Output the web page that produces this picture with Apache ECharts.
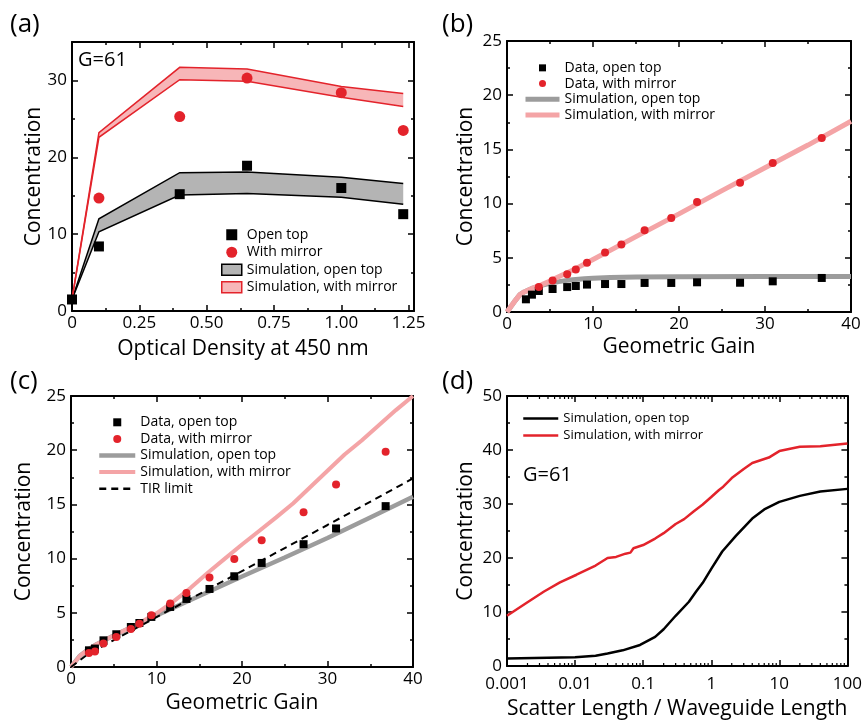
<!DOCTYPE html>
<html>
<head>
<meta charset="utf-8">
<script src="https://cdn.jsdelivr.net/npm/echarts@6.0.0/dist/echarts.min.js"></script>
<style>
html, body { margin: 0; padding: 0; background: #fff; }
#main { width: 865px; height: 722px; }
</style>
</head>
<body>
<div id="main"></div>
<script>
// (a) concentration vs optical density, G=61
const odX = [0, 0.1, 0.4, 0.65, 1.0, 1.23];
const odOpenTop = [1.5, 8.4, 15.2, 18.9, 16.0, 12.6];
const odMirrorX = [0.1, 0.4, 0.65, 1.0, 1.23];
const odMirror = [14.7, 25.3, 30.3, 28.4, 23.5];
const odSimOpenLow = [1.5, 10.3, 15.1, 15.3, 14.8, 13.9];
const odSimOpenHigh = [1.5, 12.0, 18.0, 18.1, 17.4, 16.6];
const odSimMirLow = [1.5, 22.6, 30.1, 29.9, 27.8, 26.6];
const odSimMirHigh = [1.5, 23.2, 31.7, 31.5, 29.2, 28.3];

// (b) concentration vs geometric gain
const gainB = [2.2, 2.9, 3.7, 5.3, 7.0, 8.0, 9.3, 11.4, 13.3, 16.0, 19.1, 22.1, 27.1, 30.9, 36.6];
const openB = [1.17, 1.6, 1.94, 2.12, 2.3, 2.4, 2.53, 2.58, 2.58, 2.68, 2.68, 2.74, 2.7, 2.83, 3.14];
const gainBm = [3.7, 5.3, 7.0, 8.0, 9.3, 11.4, 13.3, 16.0, 19.1, 22.1, 27.1, 30.9, 36.6];
const mirrorB = [2.3, 2.9, 3.48, 3.91, 4.55, 5.48, 6.22, 7.54, 8.67, 10.15, 11.93, 13.75, 16.05];
const simOpenBX = [0, 1, 1.5, 2, 3, 4, 5, 6, 7, 8, 9, 10, 12, 15, 20, 30, 40];
const simOpenBY = [0, 1.1, 1.6, 1.85, 2.2, 2.45, 2.65, 2.8, 2.92, 3.0, 3.07, 3.12, 3.18, 3.22, 3.25, 3.27, 3.28];
const simMirBX = [0, 1, 1.5, 2, 3, 4, 5, 6, 8, 10, 15, 20, 25, 30, 35, 40];
const simMirBY = [0, 1.1, 1.6, 1.85, 2.2, 2.5, 2.85, 3.25, 4.0, 4.85, 6.95, 9.05, 11.2, 13.3, 15.4, 17.6];

// (c) concentration vs geometric gain, second sample
const gainC = [2.1, 2.8, 3.8, 5.3, 7.0, 8.0, 9.4, 11.6, 13.5, 16.2, 19.1, 22.3, 27.2, 31.0, 36.8];
const openC = [1.54, 1.7, 2.46, 3.02, 3.69, 4.06, 4.62, 5.54, 6.28, 7.2, 8.37, 9.6, 11.33, 12.78, 14.84];
const mirrorC = [1.29, 1.42, 2.16, 2.77, 3.51, 4.0, 4.77, 5.85, 6.83, 8.25, 9.97, 11.7, 14.28, 16.84, 19.85];
const simOpenCX = [0, 1, 2, 3, 5, 8, 10, 15, 20, 25, 30, 35, 40];
const simOpenCY = [0, 1.0, 1.6, 2.1, 2.9, 4.0, 4.75, 6.55, 8.35, 10.1, 11.9, 13.8, 15.7];
const simMirCX = [0, 1, 2, 3, 5, 8, 10, 12, 14, 16, 18, 20, 22, 24, 26, 28, 30, 32, 34, 36, 38, 40];
const simMirCY = [0, 1.0, 1.6, 2.1, 2.9, 4.05, 4.95, 6.05, 7.3, 8.7, 10.0, 11.3, 12.55, 13.8, 15.1, 16.6, 18.1, 19.6, 20.9, 22.3, 23.7, 25.0];
const tirX = [0, 2, 10, 20, 30, 40];
const tirY = [0, 1.2, 4.6, 8.85, 13.1, 17.4];

// (d) concentration vs scatter length / waveguide length
const scatOpenX = [0.001, 0.01, 0.02, 0.03, 0.05, 0.09, 0.15, 0.2, 0.3, 0.47, 0.6, 0.75, 1.0, 1.45, 2.3, 4.0, 6, 10, 20, 40, 100];
const scatOpenY = [1.4, 1.6, 1.9, 2.3, 2.9, 3.9, 5.4, 6.8, 9.3, 11.9, 13.8, 15.4, 18.0, 21.2, 24.1, 27.3, 29.0, 30.4, 31.5, 32.3, 32.8];
const scatMirX = [0.001, 0.002, 0.0035, 0.006, 0.0105, 0.02, 0.03, 0.04, 0.055, 0.065, 0.072, 0.1, 0.15, 0.2, 0.3, 0.4, 0.55, 0.75, 1.0, 1.3, 1.5, 2.0, 3.0, 4.0, 7.0, 10, 20, 40, 100];
const scatMirY = [9.3, 11.8, 13.8, 15.5, 16.9, 18.6, 20.0, 20.2, 20.8, 21.0, 21.8, 22.4, 23.6, 24.6, 26.3, 27.2, 28.6, 29.9, 31.3, 32.6, 33.2, 34.8, 36.5, 37.6, 38.6, 39.8, 40.6, 40.7, 41.2];

const FONT = 'Open Sans';
const RED = '#e3232b';
const PINK = '#f4a4a6';
const GREY = '#9c9c9c';
const SQUARE = 'path://M0,0L10,0L10,10L0,10Z';

function zip(xs, ys) {
    return xs.map(function (x, i) { return [x, ys[i]]; });
}

function stripName(name) {
    return name.split('::')[1];
}

const tickStyle = {color: '#000', width: 1.5};

// bottom + top x axes for one grid
function xAxes(grid, cfg) {
    const base = {
        gridIndex: grid, type: cfg.type || 'value', min: cfg.min, max: cfg.max, interval: cfg.interval,
        axisLine: {onZero: false, lineStyle: {color: '#000', width: 2}},
        axisTick: {inside: true, length: 6, lineStyle: tickStyle},
        minorTick: {show: cfg.minor !== false, splitNumber: 2, length: 3, lineStyle: tickStyle},
        splitLine: {show: false}
    };
    const bottom = Object.assign({}, base, {
        position: 'bottom', name: cfg.name, nameLocation: 'middle', nameGap: cfg.nameGap, nameMoveOverlap: false,
        nameTextStyle: {fontSize: 21, color: '#000', fontFamily: FONT},
        axisLabel: {fontSize: 17, color: '#000', fontFamily: FONT, margin: cfg.margin || 4,
            showMaxLabel: cfg.showMax !== false, hideOverlap: false, formatter: cfg.fmt}
    });
    const top = Object.assign({}, base, {position: 'top', axisLabel: {show: false}});
    return [bottom, top];
}

// left + right y axes for one grid
function yAxes(grid, cfg) {
    const base = {
        gridIndex: grid, type: 'value', min: cfg.min, max: cfg.max, interval: cfg.interval,
        axisLine: {onZero: false, lineStyle: {color: '#000', width: 2}},
        axisTick: {inside: true, length: 6, lineStyle: tickStyle},
        minorTick: {show: true, splitNumber: 2, length: 3, lineStyle: tickStyle},
        splitLine: {show: false}
    };
    const left = Object.assign({}, base, {
        position: 'left', name: 'Concentration', nameLocation: 'middle', nameGap: cfg.nameGap, nameMoveOverlap: false,
        nameTextStyle: {fontSize: 21, color: '#000', fontFamily: FONT},
        axisLabel: {fontSize: 17, color: '#000', fontFamily: FONT, margin: 5,
            showMaxLabel: cfg.showMax !== false, hideOverlap: false}
    });
    const right = Object.assign({}, base, {position: 'right', axisLabel: {show: false}});
    return [left, right];
}

function bandRenderer(xs, lows, highs, fill, stroke) {
    return function (params, api) {
        if (params.dataIndex !== 0) return;
        const upper = xs.map(function (x, i) { return api.coord([x, highs[i]]); });
        const lower = xs.map(function (x, i) { return api.coord([x, lows[i]]); });
        return {
            type: 'group',
            children: [
                {type: 'polygon', shape: {points: upper.concat(lower.slice().reverse())}, style: {fill: fill}},
                {type: 'polyline', shape: {points: upper}, style: {stroke: stroke, lineWidth: 1.5, fill: null}},
                {type: 'polyline', shape: {points: lower}, style: {stroke: stroke, lineWidth: 1.5, fill: null}}
            ]
        };
    };
}

// log-axis minor ticks (2..9 per decade) for panel (d)
const logMinor = [];
for (let e = -3; e <= 1; e++) {
    for (let k = 2; k <= 9; k++) {
        logMinor.push([k * Math.pow(10, e), 0]);
    }
}

function lineItem(name, color, width, type) {
    return {name: name, itemStyle: {opacity: 0},
        lineStyle: {color: color, width: width, type: type || 'solid', opacity: 1}};
}
function squareItem(name, color) { return {name: name, icon: SQUARE, itemStyle: {color: color, opacity: 1}}; }
function circleItem(name, color) { return {name: name, icon: 'circle', itemStyle: {color: color, opacity: 1}}; }

function legendBox(left, top, itemWidth, itemHeight, fontSize, lineHeight, data) {
    return {
        left: left, top: top, orient: 'vertical', itemWidth: itemWidth, itemHeight: itemHeight, itemGap: 0,
        padding: 0, selectedMode: false, formatter: stripName,
        textStyle: {fontSize: fontSize, color: '#000', fontFamily: FONT, lineHeight: lineHeight},
        data: data
    };
}

const chart = echarts.init(document.getElementById('main'));

const option = {
    animation: false,
    backgroundColor: '#fff',
    textStyle: {fontFamily: FONT, color: '#000'},
    title: [
        {text: '(a)', left: 10, top: 12, padding: 0, textStyle: {fontSize: 26, fontWeight: 'normal', color: '#000', fontFamily: FONT}},
        {text: '(b)', left: 442, top: 12, padding: 0, textStyle: {fontSize: 26, fontWeight: 'normal', color: '#000', fontFamily: FONT}},
        {text: '(c)', left: 10, top: 369, padding: 0, textStyle: {fontSize: 26, fontWeight: 'normal', color: '#000', fontFamily: FONT}},
        {text: '(d)', left: 442, top: 369, padding: 0, textStyle: {fontSize: 26, fontWeight: 'normal', color: '#000', fontFamily: FONT}},
        {text: 'G=61', left: 78, top: 50, padding: 0, textStyle: {fontSize: 20, fontWeight: 'normal', color: '#000', fontFamily: FONT}},
        {text: 'G=61', left: 523, top: 465, padding: 0, textStyle: {fontSize: 20, fontWeight: 'normal', color: '#000', fontFamily: FONT}}
    ],
    legend: [
        legendBox(221, 226, 20, 11, 14, 17.5, [
            squareItem('a::Open top', '#000'),
            circleItem('a::With mirror', RED),
            {name: 'a::Simulation, open top', icon: 'rect', itemStyle: {color: '#b4b4b4', borderColor: '#000', borderWidth: 1.5, opacity: 1}},
            {name: 'a::Simulation, with mirror', icon: 'rect', itemStyle: {color: '#f7b6b8', borderColor: RED, borderWidth: 1.5, opacity: 1}}
        ]),
        legendBox(523, 60, 34, 7, 14, 15.7, [
            squareItem('b::Data, open top', '#000'),
            circleItem('b::Data, with mirror', RED),
            lineItem('b::Simulation, open top', GREY, 5),
            lineItem('b::Simulation, with mirror', PINK, 5)
        ]),
        legendBox(97, 414, 36, 8, 14, 16.6, [
            squareItem('c::Data, open top', '#000'),
            circleItem('c::Data, with mirror', RED),
            lineItem('c::Simulation, open top', GREY, 4.5),
            lineItem('c::Simulation, with mirror', PINK, 4),
            lineItem('c::TIR limit', '#000', 2.5, [7, 5])
        ]),
        legendBox(522, 410, 35, 7, 13, 17, [
            lineItem('d::Simulation, open top', '#000', 2.5),
            lineItem('d::Simulation, with mirror', RED, 2.5)
        ])
    ],
    grid: [
        {left: 72, top: 42, width: 342, height: 269},
        {left: 507, top: 41, width: 344, height: 271},
        {left: 71, top: 396, width: 342, height: 271},
        {left: 507, top: 396, width: 342, height: 270}
    ],
    xAxis: [].concat(
        xAxes(0, {min: 0, max: 1.27, interval: 0.25, name: 'Optical Density at 450 nm', nameGap: 28, showMax: false,
            fmt: function (v) { return v === 0 ? '0' : v.toFixed(2); }}),
        xAxes(1, {min: 0, max: 40, interval: 10, name: 'Geometric Gain', nameGap: 25}),
        xAxes(2, {min: 0, max: 40, interval: 10, name: 'Geometric Gain', nameGap: 26}),
        xAxes(3, {type: 'log', min: 0.001, max: 100, minor: false, name: 'Scatter Length / Waveguide Length', nameGap: 33, margin: 10,
            fmt: function (v) { return String(Number(v.toPrecision(3))); }})
    ),
    yAxis: [].concat(
        yAxes(0, {min: 0, max: 35, interval: 10, nameGap: 27, showMax: false}),
        yAxes(1, {min: 0, max: 25, interval: 5, nameGap: 30}),
        yAxes(2, {min: 0, max: 25, interval: 5, nameGap: 36}),
        yAxes(3, {min: 0, max: 50, interval: 10, nameGap: 30})
    ),
    series: [
        // (a)
        {name: 'a::Simulation, open top', type: 'custom', xAxisIndex: 0, yAxisIndex: 0, z: 2,
            itemStyle: {color: '#b4b4b4', borderColor: '#000', borderWidth: 1.5},
            data: odX.map(function (x, i) { return [x, odSimOpenLow[i], odSimOpenHigh[i]]; }),
            encode: {x: 0, y: [1, 2]},
            renderItem: bandRenderer(odX, odSimOpenLow, odSimOpenHigh, '#b4b4b4', '#000')},
        {name: 'a::Simulation, with mirror', type: 'custom', xAxisIndex: 0, yAxisIndex: 0, z: 2,
            itemStyle: {color: '#f7b6b8', borderColor: RED, borderWidth: 1.5},
            data: odX.map(function (x, i) { return [x, odSimMirLow[i], odSimMirHigh[i]]; }),
            encode: {x: 0, y: [1, 2]},
            renderItem: bandRenderer(odX, odSimMirLow, odSimMirHigh, '#f7b6b8', RED)},
        {name: 'a::Open top', type: 'scatter', xAxisIndex: 0, yAxisIndex: 0, z: 5, clip: false,
            symbol: 'rect', symbolSize: 10, itemStyle: {color: '#000', opacity: 1}, data: zip(odX, odOpenTop)},
        {name: 'a::With mirror', type: 'scatter', xAxisIndex: 0, yAxisIndex: 0, z: 5, clip: false,
            symbol: 'circle', symbolSize: 11, itemStyle: {color: RED, opacity: 1}, data: zip(odMirrorX, odMirror)},

        // (b)
        {name: 'b::Simulation, open top', type: 'line', xAxisIndex: 2, yAxisIndex: 2, z: 2, symbol: 'none',
            lineStyle: {color: GREY, width: 5}, itemStyle: {color: GREY}, data: zip(simOpenBX, simOpenBY)},
        {name: 'b::Simulation, with mirror', type: 'line', xAxisIndex: 2, yAxisIndex: 2, z: 3, symbol: 'none',
            lineStyle: {color: PINK, width: 5}, itemStyle: {color: PINK}, data: zip(simMirBX, simMirBY)},
        {name: 'b::Data, open top', type: 'scatter', xAxisIndex: 2, yAxisIndex: 2, z: 5,
            symbol: 'rect', symbolSize: 8, itemStyle: {color: '#000', opacity: 1}, data: zip(gainB, openB)},
        {name: 'b::Data, with mirror', type: 'scatter', xAxisIndex: 2, yAxisIndex: 2, z: 5,
            symbol: 'circle', symbolSize: 8, itemStyle: {color: RED, opacity: 1}, data: zip(gainBm, mirrorB)},

        // (c)
        {name: 'c::Simulation, open top', type: 'line', xAxisIndex: 4, yAxisIndex: 4, z: 2, symbol: 'none',
            lineStyle: {color: GREY, width: 4.5}, itemStyle: {color: GREY}, data: zip(simOpenCX, simOpenCY)},
        {name: 'c::Simulation, with mirror', type: 'line', xAxisIndex: 4, yAxisIndex: 4, z: 2, symbol: 'none',
            lineStyle: {color: PINK, width: 4}, itemStyle: {color: PINK}, data: zip(simMirCX, simMirCY)},
        {name: 'c::TIR limit', type: 'line', xAxisIndex: 4, yAxisIndex: 4, z: 3, symbol: 'none',
            lineStyle: {color: '#000', width: 2, type: [7, 5]}, itemStyle: {color: '#000'}, data: zip(tirX, tirY)},
        {name: 'c::Data, open top', type: 'scatter', xAxisIndex: 4, yAxisIndex: 4, z: 5,
            symbol: 'rect', symbolSize: 8, itemStyle: {color: '#000', opacity: 1}, data: zip(gainC, openC)},
        {name: 'c::Data, with mirror', type: 'scatter', xAxisIndex: 4, yAxisIndex: 4, z: 5,
            symbol: 'circle', symbolSize: 8, itemStyle: {color: RED, opacity: 1}, data: zip(gainC, mirrorC)},

        // (d)
        {name: 'd::Simulation, open top', type: 'line', xAxisIndex: 6, yAxisIndex: 6, z: 3, symbol: 'none',
            lineStyle: {color: '#000', width: 2.5}, itemStyle: {color: '#000'}, data: zip(scatOpenX, scatOpenY)},
        {name: 'd::Simulation, with mirror', type: 'line', xAxisIndex: 6, yAxisIndex: 6, z: 3, symbol: 'none',
            lineStyle: {color: RED, width: 2.5}, itemStyle: {color: RED}, data: zip(scatMirX, scatMirY)},
        {name: 'log minor ticks', type: 'custom', xAxisIndex: 6, yAxisIndex: 6, z: 4, silent: true,
            data: logMinor,
            renderItem: function (params, api) {
                const b = api.coord([api.value(0), 0]);
                const t = api.coord([api.value(0), 50]);
                return {
                    type: 'group',
                    children: [
                        {type: 'line', shape: {x1: b[0], y1: b[1], x2: b[0], y2: b[1] - 3}, style: {stroke: '#000', lineWidth: 1.2}},
                        {type: 'line', shape: {x1: t[0], y1: t[1], x2: t[0], y2: t[1] + 3}, style: {stroke: '#000', lineWidth: 1.2}}
                    ]
                };
            }}
    ]
};

chart.setOption(option);
</script>
</body>
</html>
